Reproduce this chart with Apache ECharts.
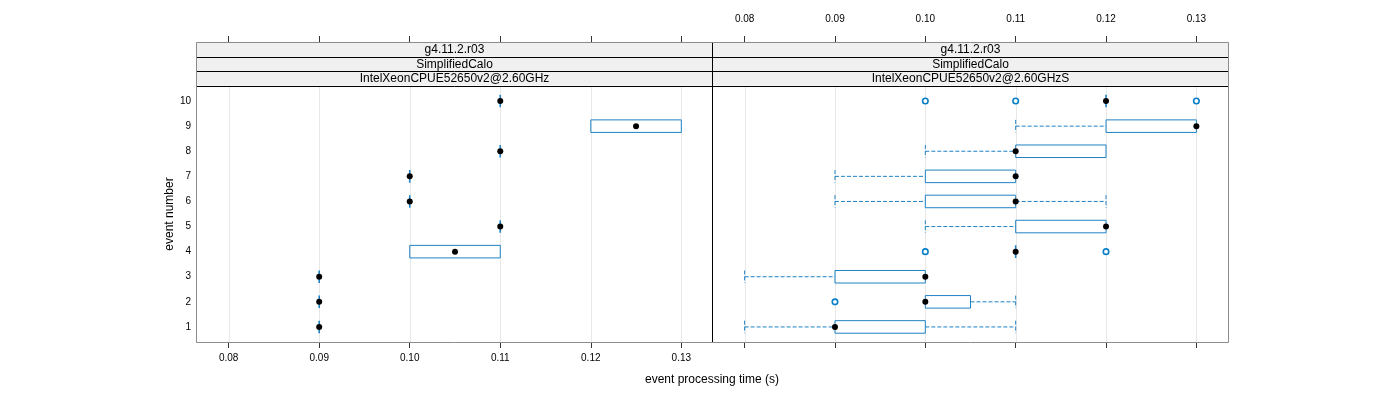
<!DOCTYPE html>
<html>
<head>
<meta charset="utf-8">
<script src="https://cdn.jsdelivr.net/npm/echarts@6/dist/echarts.min.js"></script>
<style>html,body{margin:0;padding:0;background:#fff;}#c{width:1400px;height:400px;}</style>
</head>
<body>
<div id="c"></div>
<script>
// ---- data ----
const events = [1, 2, 3, 4, 5, 6, 7, 8, 9, 10];
const xTicks = [0.08, 0.09, 0.10, 0.11, 0.12, 0.13];
const yTicks = [1, 2, 3, 4, 5, 6, 7, 8, 9, 10];
const stripLabels = ['g4.11.2.r03', 'SimplifiedCalo'];
const panelNames = ['IntelXeonCPUE52650v2@2.60GHz', 'IntelXeonCPUE52650v2@2.60GHzS'];

// panel 1: IntelXeonCPUE52650v2@2.60GHz
const p1Low    = [0.09, 0.09, 0.09, 0.10, 0.11, 0.10, 0.10, 0.11, 0.12, 0.11];
const p1Q1     = [0.09, 0.09, 0.09, 0.10, 0.11, 0.10, 0.10, 0.11, 0.12, 0.11];
const p1Median = [0.09, 0.09, 0.09, 0.105, 0.11, 0.10, 0.10, 0.11, 0.125, 0.11];
const p1Q3     = [0.09, 0.09, 0.09, 0.11, 0.11, 0.10, 0.10, 0.11, 0.13, 0.11];
const p1High   = [0.09, 0.09, 0.09, 0.11, 0.11, 0.10, 0.10, 0.11, 0.13, 0.11];

// panel 2: IntelXeonCPUE52650v2@2.60GHzS
const p2Low    = [0.08, 0.10, 0.08, 0.11, 0.10, 0.09, 0.09, 0.10, 0.11, 0.12];
const p2Q1     = [0.09, 0.10, 0.09, 0.11, 0.11, 0.10, 0.10, 0.11, 0.12, 0.12];
const p2Median = [0.09, 0.10, 0.10, 0.11, 0.12, 0.11, 0.11, 0.11, 0.13, 0.12];
const p2Q3     = [0.10, 0.105, 0.10, 0.11, 0.12, 0.11, 0.11, 0.12, 0.13, 0.12];
const p2High   = [0.11, 0.11, 0.10, 0.11, 0.12, 0.12, 0.11, 0.12, 0.13, 0.12];
const p2OutlierEvents = [2, 4, 4, 10, 10, 10];
const p2OutlierValues = [0.09, 0.10, 0.12, 0.10, 0.11, 0.13];

// ---- chart ----
const BLUE = '#1f82c4';
const FONT = '"Liberation Sans", Arial, sans-serif';
const X_MIN = 0.0765, X_MAX = 0.1335, Y_MIN = 0.4, Y_MAX = 10.6;

function boxData(low, q1, q3, high) {
  return events.map((e, i) => [e, low[i], q1[i], q3[i], high[i]]);
}
function medianData(med) { return events.map((e, i) => [med[i], e]); }

function renderBox(params, api) {
  const y = api.value(0), lo = api.value(1), q1 = api.value(2), q3 = api.value(3), hi = api.value(4);
  const h = api.size([0, 0.5])[1];
  const a = api.coord([q1, y]), b = api.coord([q3, y]);
  const cy = a[1];
  const children = [];
  const dash = { stroke: BLUE, lineWidth: 1, lineDash: [4, 2], fill: null };
  if (lo < q1) {
    const l = api.coord([lo, y]);
    children.push({ type: 'line', shape: { x1: l[0], y1: cy, x2: a[0], y2: cy }, style: dash });
    children.push({ type: 'line', shape: { x1: l[0], y1: cy - h / 2, x2: l[0], y2: cy + h / 2 }, style: dash });
  }
  if (hi > q3) {
    const r = api.coord([hi, y]);
    children.push({ type: 'line', shape: { x1: b[0], y1: cy, x2: r[0], y2: cy }, style: dash });
    children.push({ type: 'line', shape: { x1: r[0], y1: cy - h / 2, x2: r[0], y2: cy + h / 2 }, style: dash });
  }
  const w = b[0] - a[0];
  children.push({ type: 'rect', shape: { x: a[0], y: cy - h / 2, width: w, height: h },
    style: { stroke: BLUE, lineWidth: w < 0.5 ? 1.6 : 1, fill: 'rgba(255,255,255,0)' } });
  return { type: 'group', children };
}
function renderGrid(params, api) {
  const x = api.value(0);
  const t = api.coord([x, Y_MAX]), bt = api.coord([x, Y_MIN]);
  return { type: 'line', shape: { x1: Math.round(t[0]) + 0.5, y1: t[1], x2: Math.round(t[0]) + 0.5, y2: bt[1] },
    style: { stroke: '#e8e8e8', lineWidth: 1 } };
}

const grids = [
  { left: 197, top: 86, width: 516, height: 256 },
  { left: 713, top: 86, width: 515, height: 256 }
];
const tickLab = { fontSize: 10, color: '#000', fontFamily: FONT, formatter: v => Number(v).toFixed(2) };
function xAx(grid, pos, showLabel) {
  return {
    type: 'value', gridIndex: grid, position: pos, min: X_MIN, max: X_MAX,
    offset: pos === 'top' ? 44 : 0,
    axisLine: { show: false },
    axisTick: { show: true, customValues: xTicks, length: 6, inside: false, lineStyle: { color: '#333', width: 1 } },
    axisLabel: Object.assign({ show: showLabel, customValues: xTicks, margin: pos === 'top' ? 18 : 11 }, tickLab),
    splitLine: { show: false }
  };
}

const option = {
  animation: false,
  backgroundColor: '#fff',
  grid: grids,
  xAxis: [xAx(0, 'bottom', true), xAx(0, 'top', false), xAx(1, 'bottom', false), xAx(1, 'top', true)],
  yAxis: [
    { type: 'value', gridIndex: 0, min: Y_MIN, max: Y_MAX,
      axisLine: { show: false },
      axisTick: { show: false },
      axisLabel: { show: true, customValues: yTicks, fontSize: 10, color: '#000', fontFamily: FONT, margin: 6 },
      splitLine: { show: false } },
    { type: 'value', gridIndex: 1, min: Y_MIN, max: Y_MAX, show: false, splitLine: { show: false } }
  ],
  series: [
    { type: 'custom', xAxisIndex: 0, yAxisIndex: 0, z: 1, renderItem: renderGrid, data: xTicks.map(v => [v]), encode: { x: 0 }, silent: true },
    { type: 'custom', xAxisIndex: 2, yAxisIndex: 1, z: 1, renderItem: renderGrid, data: xTicks.map(v => [v]), encode: { x: 0 }, silent: true },
    { type: 'custom', xAxisIndex: 0, yAxisIndex: 0, z: 3, renderItem: renderBox, data: boxData(p1Low, p1Q1, p1Q3, p1High), encode: { y: 0, x: [1, 2, 3, 4] } },
    { type: 'custom', xAxisIndex: 2, yAxisIndex: 1, z: 3, renderItem: renderBox, data: boxData(p2Low, p2Q1, p2Q3, p2High), encode: { y: 0, x: [1, 2, 3, 4] } },
    { type: 'scatter', xAxisIndex: 0, yAxisIndex: 0, z: 5, symbol: 'circle', symbolSize: 6, itemStyle: { color: '#000', opacity: 1 }, data: medianData(p1Median) },
    { type: 'scatter', xAxisIndex: 2, yAxisIndex: 1, z: 5, symbol: 'circle', symbolSize: 6, itemStyle: { color: '#000', opacity: 1 }, data: medianData(p2Median) },
    { type: 'scatter', xAxisIndex: 2, yAxisIndex: 1, z: 4, symbol: 'circle', symbolSize: 5.5,
      itemStyle: { color: '#fff', borderColor: '#0a7fc8', borderWidth: 1.6, opacity: 1 },
      data: p2OutlierEvents.map((e, i) => [p2OutlierValues[i], e]) }
  ],
  graphic: []
};

// strips and frames (layout)
const L = 196.5, R = 1228.5, M = 712.5, TOP = 42.5, BOT = 342.5;
const stripY = [42.5, 56.8, 71.1, 85.5];
const g = [];
[[L, M], [M, R]].forEach((pr, pi) => {
  for (let s = 0; s < 3; s++) {
    g.push({ type: 'rect', z: 10, shape: { x: pr[0], y: stripY[s], width: pr[1] - pr[0], height: stripY[s + 1] - stripY[s] },
      style: { fill: '#f0f0f0', stroke: null } });
    const txt = s < 2 ? stripLabels[s] : panelNames[pi];
    g.push({ type: 'text', z: 12, x: (pr[0] + pr[1]) / 2, y: (stripY[s] + stripY[s + 1]) / 2 + 0.5,
      style: { text: txt, font: '12px ' + FONT, fill: '#000', align: 'center', verticalAlign: 'middle' } });
  }
});
for (let s = 1; s < 4; s++) {
  g.push({ type: 'line', z: 13, shape: { x1: L, y1: Math.round(stripY[s]) + 0.5, x2: R, y2: Math.round(stripY[s]) + 0.5 },
    style: { stroke: '#000', lineWidth: 1 } });
}
g.push({ type: 'line', z: 13, shape: { x1: M, y1: TOP, x2: M, y2: BOT }, style: { stroke: '#000', lineWidth: 1 } });
g.push({ type: 'rect', z: 14, shape: { x: L, y: TOP, width: R - L, height: BOT - TOP }, style: { fill: null, stroke: '#8c8c8c', lineWidth: 1 } });
g.push({ type: 'text', z: 12, x: 712, y: 380,
  style: { text: 'event processing time (s)', font: '12px ' + FONT, fill: '#000', align: 'center', verticalAlign: 'middle' } });
g.push({ type: 'text', z: 12, x: 170, y: 214, rotation: Math.PI / 2,
  style: { text: 'event number', font: '12px ' + FONT, fill: '#000', align: 'center', verticalAlign: 'middle' } });
option.graphic = g;

const chart = echarts.init(document.getElementById('c'), null, { renderer: 'canvas' });
chart.setOption(option);
</script>
</body>
</html>
